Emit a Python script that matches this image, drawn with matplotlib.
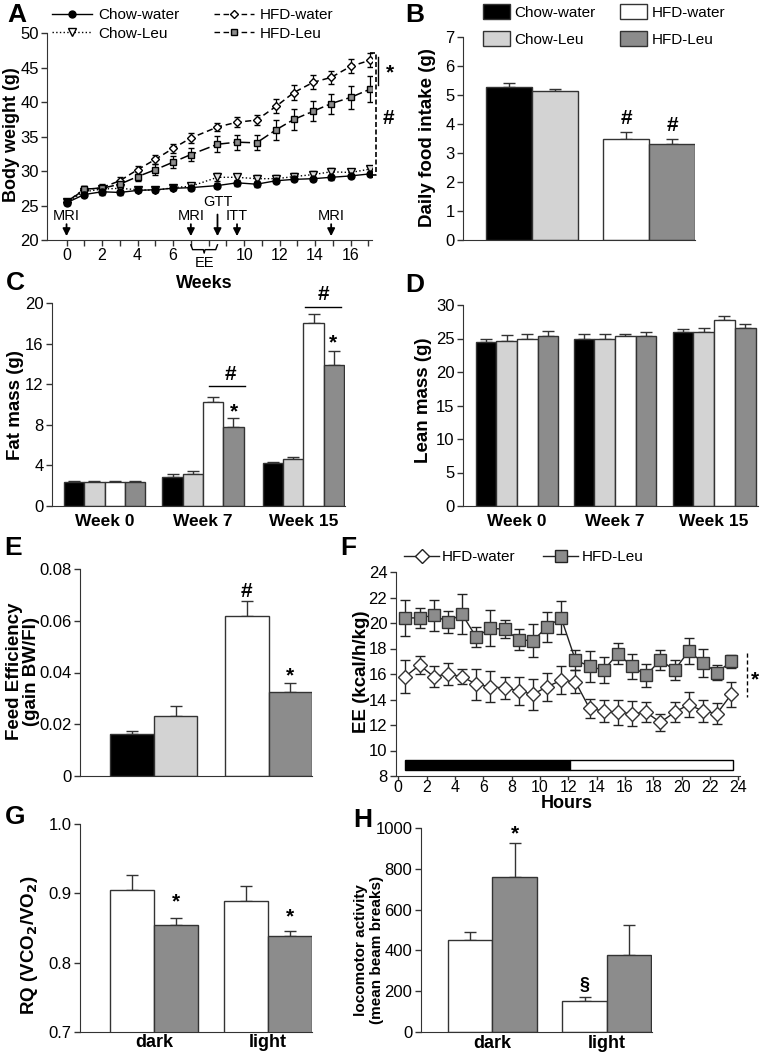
import matplotlib.pyplot as plt
from matplotlib.lines import Line2D
from matplotlib.patches import Patch
import numpy as np

plt.rcParams['font.family'] = ['Liberation Sans', 'DejaVu Sans']
plt.rcParams['font.size'] = 11

W, H = 763, 1058

# ---------------- data ----------------
groups = ['Chow-water', 'Chow-Leu', 'HFD-water', 'HFD-Leu']
group_colors = ['black', '#d3d3d3', 'white', '#8c8c8c']

# A - body weight
weeks = [0, 1, 2, 3, 4, 5, 6, 7, 8.5, 9.6, 10.7, 11.8, 12.8, 13.9, 14.9, 16, 17.1]
bw_chow_water = [25.4, 26.6, 27.0, 26.9, 27.2, 27.3, 27.5, 27.6, 27.9, 28.3, 28.1, 28.6, 28.8, 28.9, 29.1, 29.3, 29.6]
bw_chow_water_err = [0.3, 0.4, 0.4, 0.4, 0.3, 0.3, 0.3, 0.3, 0.4, 0.4, 0.4, 0.3, 0.3, 0.3, 0.4, 0.3, 0.3]
bw_chow_leu = [25.5, 27.0, 27.4, 27.5, 27.3, 27.2, 27.6, 27.8, 29.1, 29.1, 28.9, 28.9, 29.2, 29.5, 29.9, 29.8, 30.3]
bw_chow_leu_err = [0.3, 0.5, 0.4, 0.5, 0.4, 0.3, 0.3, 0.5, 0.6, 0.5, 0.5, 0.5, 0.5, 0.5, 0.6, 0.4, 0.5]
bw_hfd_water = [25.5, 27.3, 27.6, 28.6, 30.2, 31.7, 33.3, 34.8, 36.4, 37.1, 37.4, 39.4, 41.4, 42.9, 43.6, 45.2, 46.1]
bw_hfd_water_err = [0.3, 0.5, 0.5, 0.6, 0.55, 0.65, 0.65, 0.7, 0.65, 0.7, 0.7, 1.0, 1.1, 1.0, 0.9, 1.0, 1.0]
bw_hfd_leu = [25.5, 27.4, 27.5, 28.1, 29.2, 30.2, 31.3, 32.4, 33.9, 34.2, 34.1, 36.0, 37.5, 38.7, 39.8, 40.7, 41.9]
bw_hfd_leu_err = [0.3, 0.5, 0.5, 0.6, 0.65, 0.8, 0.85, 0.9, 1.15, 1.1, 1.1, 1.45, 1.5, 1.5, 1.45, 1.7, 1.9]
event_weeks = [0, 7, 8.5, 9.6, 14.9]
event_labels = ['MRI', 'MRI', 'GTT', 'ITT', 'MRI']

# B - daily food intake
food_intake = [5.28, 5.13, 3.47, 3.31]
food_err = [0.14, 0.09, 0.25, 0.16]

# C / D - body composition (rows = groups, cols = weeks)
comp_weeks = ['Week 0', 'Week 7', 'Week 15']
fat_mass = [[2.35, 2.9, 4.21], [2.35, 3.16, 4.6], [2.35, 10.2, 18.0], [2.35, 7.8, 13.9]]
fat_err = [[0.1, 0.25, 0.13], [0.1, 0.26, 0.27], [0.1, 0.5, 0.9], [0.1, 0.9, 1.4]]
lean_mass = [[24.5, 25.0, 25.9], [24.7, 25.0, 25.9], [25.0, 25.3, 27.7], [25.3, 25.3, 26.5]]
lean_err = [[0.5, 0.65, 0.5], [0.8, 0.65, 0.7], [0.65, 0.35, 0.6], [0.8, 0.6, 0.6]]

# E - feed efficiency
feed_eff = [0.0161, 0.0230, 0.0619, 0.0323]
feed_eff_err = [0.0014, 0.0041, 0.0056, 0.0036]

# F - energy expenditure
hours = [0.5, 1.5, 2.5, 3.5, 4.5, 5.5, 6.5, 7.5, 8.5, 9.5, 10.5, 11.5,
         12.5, 13.5, 14.5, 15.5, 16.5, 17.5, 18.5, 19.5, 20.5, 21.5, 22.5, 23.5]
ee_hfd_water = [15.8, 16.7, 15.8, 16.0, 15.8, 15.2, 15.0, 14.9, 14.7, 14.4, 15.0, 15.5,
                15.4, 13.3, 13.1, 13.0, 12.9, 13.0, 12.2, 13.0, 13.6, 13.1, 12.9, 14.4]
ee_hfd_water_err = [1.3, 0.7, 0.8, 0.9, 0.6, 1.2, 1.2, 0.85, 1.1, 1.2, 1.1, 1.1,
                    0.9, 0.75, 0.9, 1.0, 1.0, 0.8, 0.7, 0.8, 1.0, 0.9, 0.8, 1.0]
ee_hfd_leu = [20.4, 20.4, 20.6, 20.1, 20.7, 18.9, 19.6, 19.5, 18.7, 18.6, 19.7, 20.4,
              17.1, 16.6, 16.3, 17.6, 16.6, 15.9, 17.1, 16.3, 17.8, 16.9, 16.1, 17.0]
ee_hfd_leu_err = [1.4, 0.8, 1.2, 0.85, 1.6, 0.8, 1.4, 0.7, 0.8, 1.3, 1.2, 1.3,
                  0.8, 1.2, 1.0, 0.8, 1.0, 0.9, 0.8, 0.8, 1.0, 1.1, 0.6, 0.5]
dark_phase = (0.5, 12.1)
light_phase = (12.1, 23.6)

# G / H - dark vs light phase
phases = ['dark', 'light']
rq_water = [0.905, 0.889]
rq_water_err = [0.022, 0.022]
rq_leu = [0.854, 0.838]
rq_leu_err = [0.011, 0.007]
loco_water = [451, 153]
loco_water_err = [41, 18]
loco_leu = [757, 376]
loco_leu_err = [166, 150]

# ---------------- helpers ----------------
fig = plt.figure(figsize=(W / 100, H / 100), dpi=100)


def px_ax(l, t, r, b):
    ax = fig.add_axes([l / W, 1 - b / H, (r - l) / W, (b - t) / H])
    ax.spines['top'].set_visible(False)
    ax.spines['right'].set_visible(False)
    for s in ('left', 'bottom'):
        ax.spines[s].set_color('#333333')
    ax.tick_params(direction='out', length=4, width=1, labelsize=12, color='#333333', pad=2)
    ax.patch.set_alpha(0)
    return ax


def ftext(x, y, s, **kw):
    fig.text(x / W, 1 - y / H, s, ha='center', va='center', **kw)


def bars(ax, xs, vals, errs, colors):
    ax.errorbar(xs, vals, yerr=[np.zeros(len(errs)), errs], fmt='none', ecolor='#333333',
                elinewidth=1, capsize=4, capthick=1, zorder=1)
    ax.bar(xs, vals, width=1, color=colors, edgecolor='#333333', linewidth=1, zorder=2)


lab = dict(fontsize=13.5, fontweight='bold')
letter = dict(fontsize=19, fontweight='bold')
star = dict(ha='center', va='center', fontsize=15, fontweight='bold')

# ---------------- A ----------------
ax = px_ax(47, 33.3, 372, 240)
ax.errorbar(weeks, bw_chow_water, yerr=bw_chow_water_err, fmt='-o', color='black', mfc='black',
            ms=5, lw=1, elinewidth=0.9, capsize=2.5, zorder=4)
ax.errorbar(weeks, bw_chow_leu, yerr=bw_chow_leu_err, fmt=':v', color='black', mfc='#dddddd',
            ms=5.5, lw=1, elinewidth=0.9, capsize=2.5, zorder=3)
ax.errorbar(weeks, bw_hfd_water, yerr=bw_hfd_water_err, fmt='--D', color='black', mfc='white',
            ms=4.5, lw=1.1, dashes=(4, 2.5), elinewidth=0.9, capsize=2.5, zorder=3)
ax.errorbar(weeks, bw_hfd_leu, yerr=bw_hfd_leu_err, fmt='-.s', color='black', mfc='#8c8c8c',
            ms=4.5, lw=1.1, dashes=(7, 2.5, 1.5, 2.5), elinewidth=0.9, capsize=2.5, zorder=3)
ax.set_xlim(-1.1, 17.2)
ax.set_ylim(20, 50)
ax.set_yticks(range(20, 51, 5))
ax.set_xticks(range(0, 18))
ax.set_xticklabels([str(w) if w % 2 == 0 and w != 8 else '' for w in range(0, 18)])
ax.tick_params(axis='x', labelsize=11.5)
for wk, lbl in zip(event_weeks, event_labels):
    top = 24.1 if lbl == 'GTT' else 22.7
    ax.annotate('', xy=(wk, 20.15), xytext=(wk, top),
                arrowprops=dict(arrowstyle='-|>', color='black', lw=1.3, mutation_scale=11))
    ax.text(wk, 25.5 if lbl == 'GTT' else 23.5, lbl, ha='center', va='center', fontsize=10.5)
# EE bracket under the axis
ax.plot([7, 7.1, 7.7, 7.75, 7.8, 8.4, 8.5], [19.3, 18.6, 18.6, 18.1, 18.6, 18.6, 19.3],
        color='black', lw=1, clip_on=False)
ax.text(7.75, 16.6, 'EE', ha='center', va='center', fontsize=10.5)
# significance marks
ax.plot([17.55, 17.55], [46.6, 42.5], color='black', lw=1, clip_on=False)
ax.plot([17.1, 17.4, 17.4, 17.1], [47.1, 47.1, 29.4, 29.4], color='black', lw=1.2,
        ls='--', dashes=(3, 1.5), clip_on=False)
ax.text(18.2, 44.2, '*', **star)
ax.text(18.1, 37.7, '#', **star)
ftext(204, 283, 'Weeks', fontsize=13, fontweight='bold')
ftext(12, 135, 'Body weight (g)', rotation=90, fontsize=13, fontweight='bold')
ftext(17, 15, 'A', **letter)
handles = [Line2D([], [], color='black', marker='o', mfc='black', ms=5, lw=1),
           Line2D([], [], color='black', marker='v', mfc='white', ms=5.5, lw=1, ls=':'),
           Line2D([], [], color='black', marker='D', mfc='white', ms=4.5, lw=1, dashes=(4, 2.5)),
           Line2D([], [], color='black', marker='s', mfc='#8c8c8c', ms=5, lw=1, dashes=(4, 2.5))]
fig.legend(handles, groups, ncol=2, loc='upper left', bbox_to_anchor=(52 / W, 1 - 8 / H),
           frameon=False, fontsize=11, handlelength=2.6, columnspacing=2.3, labelspacing=0.3,
           handletextpad=0.4, borderpad=0, borderaxespad=0)

# ---------------- B ----------------
ax = px_ax(463, 37, 695, 240)
bx = [0, 1, 2.55, 3.55]
bars(ax, bx, food_intake, food_err, group_colors)
ax.set_xlim(-1.0, 4.05)
ax.set_ylim(0, 7)
ax.set_yticks(range(0, 8))
ax.set_xticks([])
ax.text(2.55, 4.19, '#', **star)
ax.text(3.55, 3.96, '#', **star)
ftext(427, 138, 'Daily food intake (g)', rotation=90, **lab)
ftext(415, 15, 'B', **letter)
patches = [Patch(facecolor=c, edgecolor='#333333', lw=1) for c in group_colors]
fig.legend(patches, groups, ncol=2, loc='upper left',
           bbox_to_anchor=(483 / W, 1 - 4 / H), frameon=False, fontsize=11, handlelength=1.75,
           handleheight=1.1, columnspacing=1.6, labelspacing=0.75, handletextpad=0.3,
           borderpad=0, borderaxespad=0)


# ---------------- C / D ----------------
def comp_panel(ax, vals, errs, centers):
    for g in range(4):
        xs = [c + g - 1.5 for c in centers]
        bars(ax, xs, vals[g], errs[g], [group_colors[g]] * 3)
    ax.set_xticks(centers)
    ax.set_xticklabels(comp_weeks, fontsize=12.5, fontweight='bold')
    ax.tick_params(axis='x', length=0, pad=6)


ax = px_ax(52, 303, 345, 506)
c_centers = [0, 4.85, 9.8]
comp_panel(ax, fat_mass, fat_err, c_centers)
ax.set_xlim(-2.59, 11.85)
ax.set_ylim(0, 20)
ax.set_yticks(range(0, 21, 4))
ax.plot([5.16, 6.92], [11.84, 11.84], color='black', lw=1)
ax.text(6.18, 13.0, '#', **star)
ax.text(6.4, 9.3, '*', **star)
ax.plot([9.88, 11.63], [19.57, 19.57], color='black', lw=1, clip_on=False)
ax.text(10.78, 20.8, '#', clip_on=False, **star)
ax.text(11.27, 16.05, '*', **star)
ftext(16, 405, 'Fat mass (g)', rotation=90, **lab)
ftext(15, 283, 'C', **letter)

ax = px_ax(463, 305, 758, 506)
d_centers = [0, 4.73, 9.52]
comp_panel(ax, lean_mass, lean_err, d_centers)
ax.set_xlim(-2.61, 11.64)
ax.set_ylim(0, 30)
ax.set_yticks(range(0, 31, 5))
ftext(423, 400, 'Lean mass (g)', rotation=90, **lab)
ftext(415, 285, 'D', **letter)

# ---------------- E ----------------
ax = px_ax(80, 569, 312, 776)
ex = [0, 1, 2.64, 3.64]
bars(ax, ex, feed_eff, feed_eff_err, group_colors)
ax.set_xlim(-1.2, 4.14)
ax.set_ylim(0, 0.08)
ax.set_yticks([0, 0.02, 0.04, 0.06, 0.08])
ax.set_yticklabels(['0', '0.02', '0.04', '0.06', '0.08'])
ax.set_xticks([])
ax.text(2.64, 0.0714, '#', **star)
ax.text(3.64, 0.0385, '*', **star)
ftext(23, 671, 'Feed Efficiency\n(gain BW/FI)', rotation=90, linespacing=1.05, **lab)
ftext(13, 548, 'E', **letter)

# ---------------- F ----------------
ax = px_ax(395.7, 572, 740, 776)
ax.errorbar(hours, ee_hfd_leu, yerr=ee_hfd_leu_err, fmt='-s', color='#222222', mfc='#8c8c8c',
            mec='#333333', ms=8, lw=1, elinewidth=1, capsize=3.5, zorder=3)
ax.errorbar(hours, ee_hfd_water, yerr=ee_hfd_water_err, fmt='-D', color='#222222', mfc='white',
            mec='#333333', ms=7, lw=1, elinewidth=1, capsize=3.5, zorder=3)
ax.barh(8.86, dark_phase[1] - dark_phase[0], left=dark_phase[0], height=0.78,
        color='black', edgecolor='black', lw=1)
ax.barh(8.86, light_phase[1] - light_phase[0], left=light_phase[0], height=0.78,
        color='white', edgecolor='black', lw=1)
ax.set_xlim(-0.18, 24.12)
ax.set_ylim(8, 24)
ax.set_xticks(range(0, 25, 2))
ax.set_yticks(range(8, 25, 2))
ax.tick_params(axis='x', length=3, pad=0, labelsize=11.5)
ax.plot([24.6, 24.6], [17.65, 14.2], color='black', lw=1, ls='--', dashes=(3, 2), clip_on=False)
ax.text(25.2, 15.5, '*', **star)
ftext(567, 804, 'Hours', fontsize=13, fontweight='bold')
ftext(362, 672, 'EE (kcal/h/kg)', rotation=90, **lab)
ftext(348, 548, 'F', **letter)
fh = [Line2D([], [], color='#222222', marker='D', mfc='white', ms=7, lw=1),
      Line2D([], [], color='#222222', marker='s', mfc='#8c8c8c', ms=8, lw=1)]
fig.legend(fh, ['HFD-water', 'HFD-Leu'], ncol=2, loc='center left',
           bbox_to_anchor=(404 / W, 1 - 557 / H), frameon=False, fontsize=11, handlelength=2.3,
           columnspacing=1.8, handletextpad=0.2, borderpad=0, borderaxespad=0)


# ---------------- G / H ----------------
def phase_panel(ax, w, we, l, le, pos):
    wx = [pos[0], pos[2]]
    lx = [pos[1], pos[3]]
    bars(ax, wx, w, we, ['white', 'white'])
    bars(ax, lx, l, le, ['#8c8c8c', '#8c8c8c'])
    ax.set_xticks([(pos[0] + pos[1]) / 2, (pos[2] + pos[3]) / 2])
    ax.set_xticklabels(phases, fontsize=13, fontweight='bold')
    ax.tick_params(axis='x', length=0, pad=2)


ax = px_ax(80, 824.3, 312, 1031.7)
gpos = [0, 1, 2.59, 3.58]
phase_panel(ax, rq_water, rq_water_err, rq_leu, rq_leu_err, gpos)
ax.set_xlim(-1.18, 4.08)
ax.set_ylim(0.7, 1.0)
ax.set_yticks([0.7, 0.8, 0.9, 1.0])
ax.set_yticklabels(['0.7', '0.8', '0.9', '1.0'])
ax.text(1, 0.888, '*', **star)
ax.text(3.58, 0.866, '*', **star)
ftext(29, 945, 'RQ (VCO$_\\mathbf{2}$/VO$_\\mathbf{2}$)', rotation=90, **lab)
ftext(15, 817, 'G', **letter)

ax = px_ax(420.7, 827.7, 652, 1032.3)
hpos = [0, 1, 2.58, 3.58]
phase_panel(ax, loco_water, loco_water_err, loco_leu, loco_leu_err, hpos)
ax.set_xlim(-1.12, 4.1)
ax.set_ylim(0, 1000)
ax.set_yticks(range(0, 1001, 200))
ax.text(1, 972, '*', **star)
ax.text(2.58, 231, '§', ha='center', va='center', fontsize=13, fontweight='bold')
ftext(369, 950, 'locomotor activity\n(mean beam breaks)', rotation=90, fontsize=11,
      fontweight='bold', linespacing=1.25)
ftext(363, 820, 'H', **letter)

fig.savefig('out.png', dpi=100)
